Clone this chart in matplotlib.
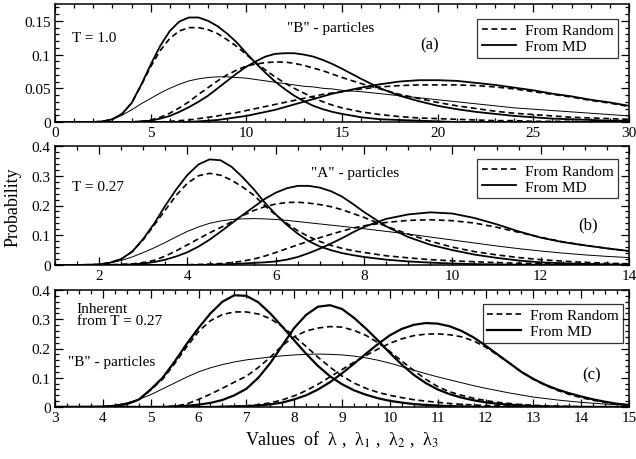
import numpy as np
import matplotlib
matplotlib.use('Agg')
import matplotlib.pyplot as plt
from matplotlib.ticker import MultipleLocator

plt.rcParams['font.family'] = 'Liberation Serif'
plt.rcParams['mathtext.fontset'] = 'stix'

# ---------------- panel (a): "B" particles, T = 1.0 ----------------
xa = [0, 1, 2, 2.5, 3, 3.5, 4, 4.5, 5, 5.5, 6, 6.5, 7, 7.5, 8, 8.5, 9, 9.5,
      10, 10.5, 11, 11.5, 12, 12.5, 13, 13.5, 14, 14.5, 15,
      16, 17, 18, 19, 20, 21, 22, 23, 24, 25, 26, 27, 28, 29, 30]
a_md_l1 = [0, 0, 0, 0.001, 0.004, 0.012, 0.028, 0.055, 0.085, 0.113, 0.135, 0.149, 0.155,
           0.155, 0.150, 0.142, 0.131, 0.118, 0.102, 0.087, 0.073, 0.060, 0.049, 0.039,
           0.031, 0.024, 0.019, 0.015, 0.012,
           0.007, 0.004, 0.003, 0.002, 0.001, 0, 0, 0, 0, 0, 0, 0, 0, 0, 0]
a_rnd_l1 = [0, 0, 0, 0.001, 0.004, 0.012, 0.028, 0.054, 0.082, 0.106, 0.124, 0.135, 0.140,
            0.140, 0.137, 0.131, 0.122, 0.112, 0.100, 0.088, 0.077, 0.067, 0.058, 0.050,
            0.043, 0.036, 0.030, 0.025, 0.021,
            0.015, 0.011, 0.008, 0.006, 0.005, 0.004, 0.003, 0.002, 0.002, 0.001, 0.001,
            0.001, 0, 0, 0]
a_md_l = [0, 0, 0, 0.001, 0.004, 0.010, 0.018, 0.027, 0.035, 0.043, 0.050, 0.056, 0.061,
          0.064, 0.066, 0.067, 0.067, 0.066, 0.065, 0.063, 0.061, 0.059, 0.057, 0.055,
          0.053, 0.052, 0.050, 0.049, 0.047,
          0.045, 0.042, 0.039, 0.036, 0.033, 0.030, 0.027, 0.024, 0.021, 0.019, 0.017,
          0.015, 0.013, 0.011, 0.009]
a_md_l2 = [0, 0, 0, 0, 0, 0, 0, 0.001, 0.002, 0.005, 0.009, 0.015, 0.022, 0.030, 0.039,
           0.050, 0.061, 0.072, 0.082, 0.090, 0.097, 0.101, 0.102, 0.102, 0.100, 0.097,
           0.092, 0.086, 0.079,
           0.064, 0.050, 0.039, 0.031, 0.024, 0.019, 0.015, 0.012, 0.009, 0.007, 0.005,
           0.004, 0.003, 0.002, 0.002]
a_rnd_l2 = [0, 0, 0, 0, 0, 0, 0, 0.001, 0.003, 0.007, 0.013, 0.021, 0.030, 0.041, 0.051,
            0.061, 0.070, 0.077, 0.083, 0.086, 0.088, 0.089, 0.089, 0.087, 0.084, 0.080,
            0.076, 0.071, 0.066,
            0.057, 0.049, 0.041, 0.035, 0.029, 0.024, 0.020, 0.016, 0.013, 0.011, 0.009,
            0.007, 0.006, 0.005, 0.004]
a_md_l3 = [0, 0, 0, 0, 0, 0, 0, 0, 0, 0, 0, 0, 0, 0.001, 0.002, 0.003, 0.005, 0.007,
           0.009, 0.012, 0.015, 0.018, 0.022, 0.026, 0.030, 0.034, 0.038, 0.042, 0.045,
           0.051, 0.056, 0.060, 0.062, 0.062, 0.061, 0.058, 0.055, 0.051, 0.047, 0.042,
           0.038, 0.033, 0.029, 0.024]
a_rnd_l3 = [0, 0, 0, 0, 0, 0, 0, 0, 0, 0, 0.001, 0.002, 0.003, 0.005, 0.007, 0.009, 0.012,
            0.014, 0.017, 0.020, 0.023, 0.026, 0.029, 0.032, 0.035, 0.038, 0.041, 0.043,
            0.045,
            0.049, 0.052, 0.054, 0.055, 0.055, 0.055, 0.054, 0.052, 0.049, 0.045, 0.041,
            0.037, 0.032, 0.028, 0.023]

# ---------------- panel (b): "A" particles, T = 0.27 ----------------
xb = [1, 1.5, 2, 2.25, 2.5, 2.75, 3, 3.25, 3.5, 3.75, 4, 4.25, 4.5, 4.75, 5, 5.25,
      5.5, 5.75, 6, 6.25, 6.5, 6.75, 7, 7.25, 7.5, 7.75, 8,
      8.5, 9, 9.5, 10, 10.5, 11, 11.5, 12, 12.5, 13, 13.5, 14]
b_md_l1 = [0, 0, 0.002, 0.008, 0.020, 0.045, 0.088, 0.140, 0.200, 0.255, 0.303, 0.338,
           0.355, 0.352, 0.330, 0.295, 0.255, 0.210, 0.170, 0.135, 0.105, 0.080, 0.062,
           0.050, 0.040, 0.033, 0.027,
           0.018, 0.012, 0.008, 0.005, 0.003, 0.002, 0.001, 0.001, 0, 0, 0, 0]
b_rnd_l1 = [0, 0, 0.002, 0.008, 0.020, 0.045, 0.085, 0.135, 0.185, 0.235, 0.275, 0.300,
            0.308, 0.302, 0.285, 0.262, 0.235, 0.200, 0.168, 0.140, 0.115, 0.095, 0.079,
            0.066, 0.056, 0.048, 0.042,
            0.031, 0.024, 0.018, 0.014, 0.011, 0.008, 0.006, 0.005, 0.004, 0.003, 0.002,
            0.002]
b_md_l = [0, 0, 0.002, 0.007, 0.015, 0.027, 0.042, 0.058, 0.076, 0.095, 0.113, 0.128,
          0.140, 0.148, 0.153, 0.155, 0.156, 0.155, 0.153, 0.150, 0.146, 0.142, 0.138,
          0.134, 0.130, 0.126, 0.122,
          0.113, 0.104, 0.094, 0.084, 0.074, 0.064, 0.055, 0.047, 0.040, 0.034, 0.029,
          0.025]
b_md_l2 = [0, 0, 0, 0, 0.001, 0.002, 0.005, 0.010, 0.018, 0.029, 0.043, 0.062, 0.085,
           0.112, 0.140, 0.168, 0.195, 0.222, 0.243, 0.258, 0.266, 0.266, 0.260, 0.248,
           0.230, 0.205, 0.178,
           0.130, 0.094, 0.068, 0.050, 0.035, 0.024, 0.015, 0.009, 0.006, 0.004, 0.002,
           0.001]
b_rnd_l2 = [0, 0, 0, 0.001, 0.002, 0.004, 0.008, 0.016, 0.030, 0.048, 0.068, 0.088,
            0.108, 0.126, 0.145, 0.166, 0.183, 0.196, 0.205, 0.210, 0.211, 0.208, 0.203,
            0.196, 0.186, 0.173, 0.160,
            0.130, 0.104, 0.080, 0.060, 0.045, 0.034, 0.025, 0.018, 0.013, 0.009, 0.006,
            0.004]
b_md_l3 = [0, 0, 0, 0, 0, 0, 0, 0, 0, 0, 0, 0, 0.001, 0.002, 0.003, 0.005, 0.007, 0.009,
           0.012, 0.018, 0.027, 0.040, 0.055, 0.072, 0.090, 0.110, 0.128,
           0.155, 0.170, 0.177, 0.173, 0.158, 0.137, 0.113, 0.092, 0.077, 0.066, 0.056,
           0.047]
b_rnd_l3 = [0, 0, 0, 0, 0, 0, 0, 0, 0, 0, 0.001, 0.002, 0.003, 0.005, 0.008, 0.013, 0.020,
            0.030, 0.042, 0.055, 0.068, 0.080, 0.092, 0.103, 0.114, 0.124, 0.132,
            0.143, 0.150, 0.152, 0.149, 0.141, 0.127, 0.110, 0.093, 0.078, 0.066, 0.056,
            0.047]

# ---------------- panel (c): inherent structures, "B" particles ----------------
xc = [3, 3.5, 4, 4.25, 4.5, 4.75, 5, 5.25, 5.5, 5.75, 6, 6.25, 6.5, 6.75, 7, 7.25, 7.5,
      7.75, 8, 8.25, 8.5, 8.75, 9, 9.25, 9.5, 9.75, 10, 10.25, 10.5, 10.75, 11, 11.25,
      11.5, 11.75, 12, 12.25, 12.5, 12.75, 13, 13.25, 13.5, 13.75, 14, 14.25, 14.5,
      14.75, 15]
c_md_l1 = [0, 0, 0.001, 0.004, 0.010, 0.025, 0.060, 0.100, 0.155, 0.215, 0.270, 0.320,
           0.360, 0.382, 0.380, 0.358, 0.320, 0.275, 0.228, 0.182, 0.140, 0.105, 0.078,
           0.057, 0.042, 0.030, 0.021, 0.015, 0.010, 0.007, 0.005, 0.003, 0.002, 0.001,
           0, 0, 0, 0, 0, 0, 0, 0, 0, 0, 0, 0, 0]
c_rnd_l1 = [0, 0, 0.001, 0.004, 0.010, 0.024, 0.058, 0.095, 0.148, 0.205, 0.258, 0.295,
            0.316, 0.325, 0.325, 0.318, 0.302, 0.275, 0.242, 0.207, 0.170, 0.136, 0.106,
            0.082, 0.064, 0.050, 0.040, 0.032, 0.025, 0.020, 0.016, 0.012, 0.009, 0.007,
            0.005, 0.004, 0.003, 0.002, 0.002, 0.001, 0.001, 0.001, 0, 0, 0, 0, 0]
c_md_l = [0, 0, 0.002, 0.006, 0.014, 0.026, 0.042, 0.062, 0.082, 0.102, 0.120, 0.134,
          0.145, 0.154, 0.161, 0.166, 0.171, 0.175, 0.178, 0.180, 0.181, 0.180, 0.178,
          0.174, 0.168, 0.160, 0.150, 0.138, 0.126, 0.114, 0.103, 0.093, 0.083, 0.073,
          0.064, 0.056, 0.048, 0.041, 0.034, 0.029, 0.024, 0.020, 0.016, 0.013, 0.010,
          0.008, 0.006]
c_md_l2 = [0, 0, 0, 0, 0, 0, 0, 0, 0.002, 0.004, 0.008, 0.014, 0.024, 0.040, 0.062,
           0.100, 0.150, 0.210, 0.270, 0.315, 0.343, 0.348, 0.335, 0.305, 0.268, 0.228,
           0.185, 0.145, 0.110, 0.082, 0.060, 0.044, 0.032, 0.023, 0.016, 0.011, 0.008,
           0.005, 0.003, 0.002, 0.001, 0, 0, 0, 0, 0, 0]
c_rnd_l2 = [0, 0, 0, 0, 0, 0, 0, 0, 0.003, 0.010, 0.026, 0.044, 0.064, 0.085, 0.105,
            0.135, 0.170, 0.210, 0.240, 0.260, 0.270, 0.275, 0.273, 0.262, 0.245, 0.220,
            0.190, 0.157, 0.125, 0.095, 0.070, 0.052, 0.040, 0.030, 0.022, 0.016, 0.012,
            0.008, 0.006, 0.004, 0.003, 0.002, 0.001, 0, 0, 0, 0]
c_md_l3 = [0, 0, 0, 0, 0, 0, 0, 0, 0, 0, 0, 0, 0.001, 0.002, 0.003, 0.005, 0.009, 0.015,
           0.026, 0.040, 0.060, 0.085, 0.115, 0.148, 0.182, 0.215, 0.245, 0.267, 0.281,
           0.287, 0.285, 0.276, 0.260, 0.238, 0.210, 0.180, 0.150, 0.120, 0.096, 0.076,
           0.060, 0.047, 0.036, 0.026, 0.018, 0.011, 0.007]
c_rnd_l3 = [0, 0, 0, 0, 0, 0, 0, 0, 0, 0, 0, 0, 0.001, 0.002, 0.004, 0.008, 0.014, 0.024,
            0.038, 0.056, 0.078, 0.103, 0.128, 0.153, 0.176, 0.198, 0.218, 0.233, 0.244,
            0.249, 0.250, 0.247, 0.240, 0.226, 0.205, 0.178, 0.150, 0.120, 0.095, 0.074,
            0.057, 0.043, 0.032, 0.023, 0.016, 0.010, 0.006]

# figure 636x460 px
fig = plt.figure(figsize=(6.36, 4.60), dpi=100)
W, H = 636., 460.
def axbox(l, t, r, b):
    return [l/W, 1-b/H, (r-l)/W, (b-t)/H]

ax1 = fig.add_axes(axbox(55, 5, 629, 123))
ax2 = fig.add_axes(axbox(55, 147, 629, 266))
ax3 = fig.add_axes(axbox(55, 291, 629, 408))

dash = (0, (3.5, 2.2))
thick, thin, dlw = 1.3, 0.7, 1.2

def draw(ax, x, rnd, md, lam, mdlw):
    # random-start distributions (dashed)
    for k, y in enumerate(rnd):
        ax.plot(x, y, color='k', lw=dlw, ls=dash,
                label='From Random' if k == 0 else None)
    # MD distributions (thick solid), plus the thin one for lambda
    for k, y in enumerate(md):
        ax.plot(x, y, color='k', lw=mdlw, label='From MD' if k == 0 else None)
    ax.plot(x, lam, color='k', lw=thin)

draw(ax1, xa, [a_rnd_l1, a_rnd_l2, a_rnd_l3], [a_md_l1, a_md_l2, a_md_l3], a_md_l, thick)
draw(ax2, xb, [b_rnd_l1, b_rnd_l2, b_rnd_l3], [b_md_l1, b_md_l2, b_md_l3], b_md_l, thick)
draw(ax3, xc, [c_rnd_l1, c_rnd_l2, c_rnd_l3], [c_md_l1, c_md_l2, c_md_l3], c_md_l, 1.6)

# axis ranges and ticks
ax1.set_xlim(0, 30); ax1.set_ylim(0, 0.175)
ax1.xaxis.set_major_locator(MultipleLocator(5)); ax1.xaxis.set_minor_locator(MultipleLocator(1))
ax1.yaxis.set_major_locator(MultipleLocator(0.05)); ax1.yaxis.set_minor_locator(MultipleLocator(0.01))
ax1.set_yticks([0, 0.05, 0.1, 0.15])
ax1.set_yticklabels(['0', '0.05', '0.1', '0.15'])

ax2.set_xlim(1, 14); ax2.set_ylim(0, 0.4)
ax2.xaxis.set_major_locator(MultipleLocator(2)); ax2.xaxis.set_minor_locator(MultipleLocator(0.5))
ax2.yaxis.set_major_locator(MultipleLocator(0.1)); ax2.yaxis.set_minor_locator(MultipleLocator(0.02))
ax2.set_yticks([0, 0.1, 0.2, 0.3, 0.4])
ax2.set_yticklabels(['0', '0.1', '0.2', '0.3', '0.4'])

ax3.set_xlim(3, 15); ax3.set_ylim(0, 0.4)
ax3.xaxis.set_major_locator(MultipleLocator(1)); ax3.xaxis.set_minor_locator(MultipleLocator(0.25))
ax3.yaxis.set_major_locator(MultipleLocator(0.1)); ax3.yaxis.set_minor_locator(MultipleLocator(0.02))
ax3.set_yticks([0, 0.1, 0.2, 0.3, 0.4])
ax3.set_yticklabels(['0', '0.1', '0.2', '0.3', '0.4'])

for ax in (ax1, ax2, ax3):
    ax.tick_params(which='both', direction='in', top=True, right=True,
                   labelsize=11, pad=3, width=0.9, color='k')
    ax.tick_params(which='major', length=6)
    ax.tick_params(which='minor', length=3)
    for s in ax.spines.values():
        s.set_linewidth(1.1)

# legends
leg_kw = dict(loc='upper right', fontsize=11, frameon=True, fancybox=False,
              edgecolor='k', borderaxespad=0, borderpad=0.3, labelspacing=0.15,
              handlelength=2.2, handletextpad=0.6)
for ax, anchor in ((ax1, (0.981, 0.871)), (ax2, (0.981, 0.887)), (ax3, (0.99, 0.88))):
    lg = ax.legend(bbox_to_anchor=anchor, **leg_kw)
    lg.get_frame().set_linewidth(0.9)

# panel texts
ax1.text(0.03, 0.72, 'T = 1.0', transform=ax1.transAxes, fontsize=11, va='center')
ax1.text(0.405, 0.80, '"B" - particles', transform=ax1.transAxes, fontsize=11, va='center')
ax1.text(0.652, 0.66, '(a)', transform=ax1.transAxes, fontsize=12, va='center', ha='center')

ax2.text(0.03, 0.657, 'T = 0.27', transform=ax2.transAxes, fontsize=11, va='center')
ax2.text(0.446, 0.78, '"A" - particles', transform=ax2.transAxes, fontsize=11, va='center')
ax2.text(0.929, 0.345, '(b)', transform=ax2.transAxes, fontsize=12, va='center', ha='center')

ax3.text(0.038, 0.79, 'Inherent\nfrom T = 0.27', transform=ax3.transAxes, fontsize=11,
         va='center', linespacing=0.95)
ax3.text(0.023, 0.385, '"B" - particles', transform=ax3.transAxes, fontsize=11, va='center')
ax3.text(0.935, 0.28, '(c)', transform=ax3.transAxes, fontsize=12, va='center', ha='center')

fig.text(13/W, 1-207/H, 'Probability', rotation=90, fontsize=13, ha='center', va='center')
fig.text(342/W, 1-440/H,
         r'Values  of  λ ,  λ$_1$ ,  λ$_2$ ,  λ$_3$', fontsize=13, ha='center', va='center')

fig.savefig('out.png', dpi=100)
